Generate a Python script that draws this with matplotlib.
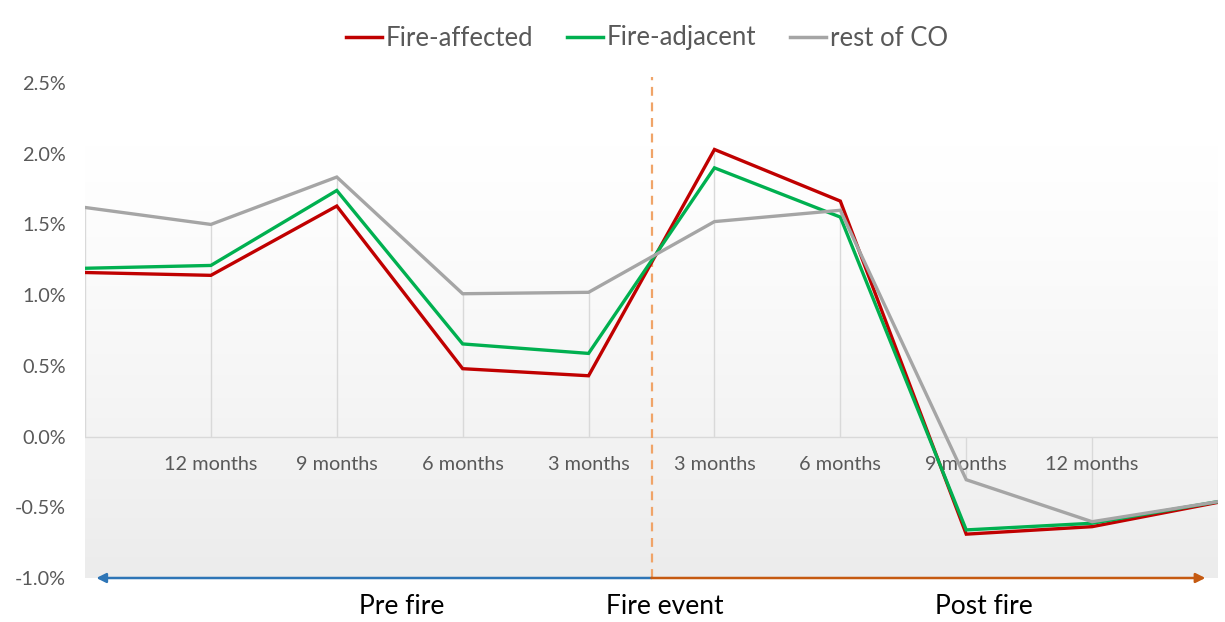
import numpy as np
import matplotlib
matplotlib.use("Agg")
import matplotlib.pyplot as plt
from matplotlib.colors import LinearSegmentedColormap

plt.rcParams['font.family'] = ['Lato', 'DejaVu Sans']

# Quarterly change, in percent, from 15 months before to 15 months after the fire
categories = ['', '12 months', '9 months', '6 months', '3 months',
              '3 months', '6 months', '9 months', '12 months', '']
fire_affected = [1.16, 1.14, 1.63, 0.48, 0.43, 2.03, 1.665, -0.69, -0.637, -0.465]
fire_adjacent = [1.19, 1.21, 1.74, 0.655, 0.588, 1.90, 1.552, -0.66, -0.613, -0.46]
rest_of_co = [1.62, 1.50, 1.835, 1.01, 1.02, 1.52, 1.60, -0.305, -0.602, -0.46]
fire_event_pos = 4.5

series = [
    ("Fire-affected", fire_affected, "#C00000"),
    ("Fire-adjacent", fire_adjacent, "#00B050"),
    ("rest of CO", rest_of_co, "#A5A5A5"),
]

fig = plt.figure(figsize=(12.25, 6.22), dpi=100)
ax = fig.add_axes([85 / 1225, 1 - 578 / 622, (1218 - 85) / 1225, (578 - 83) / 622])

x = np.arange(len(categories))
ymin, ymax = -1.0, 2.5
ax.set_xlim(0, len(categories) - 1)
ax.set_ylim(ymin, ymax)

# soft vertical gradient behind the plot area
grad = np.clip((np.linspace(0, 1, 256) - 0.12) / 0.88, 0, 1) ** 1.2
cmap = LinearSegmentedColormap.from_list("bg", ["#ffffff", "#ececec"])
ax.imshow(grad[:, None], aspect='auto', cmap=cmap, origin='upper',
          extent=[0, len(categories) - 1, ymin, ymax], zorder=0)

# drop lines from the highest series value to the zero line
tops = np.max(np.array([fire_affected, fire_adjacent, rest_of_co]), axis=0)
ax.vlines(x, 0, tops, color="#d9d9d9", lw=1, zorder=1)
ax.axhline(0, color="#d9d9d9", lw=1, zorder=1)

for name, vals, col in series:
    ax.plot(x, vals, color=col, lw=2.4, label=name, zorder=3,
            solid_joinstyle='miter')

# fire event marker
ax.plot([fire_event_pos, fire_event_pos], [ymin, 2.54], color="#F0A468",
        lw=1.6, ls=(0, (4, 3)), zorder=2, clip_on=False)

# period arrows along the bottom
ax.annotate("", xy=(0.09, ymin), xytext=(fire_event_pos, ymin),
            arrowprops=dict(arrowstyle='-|>', color="#2E75B6", lw=1.8,
                            mutation_scale=14, shrinkA=0, shrinkB=0),
            annotation_clip=False, zorder=4)
ax.annotate("", xy=(8.9, ymin), xytext=(fire_event_pos, ymin),
            arrowprops=dict(arrowstyle='-|>', color="#C55A11", lw=1.8,
                            mutation_scale=14, shrinkA=0, shrinkB=0),
            annotation_clip=False, zorder=4)

# axes styling
for s in ax.spines.values():
    s.set_visible(False)
ax.set_xticks(x[1:-1])
ax.set_xticklabels(categories[1:-1])
ax.xaxis.set_ticks_position('bottom')
ax.spines['bottom'].set_position(('data', 0))
ax.tick_params(axis='x', length=0, pad=14, labelsize=14.3, labelcolor="#595959")
yt = np.arange(-1.0, 2.51, 0.5)
ax.set_yticks(yt)
ax.set_yticklabels([f"{v:.1f}%" for v in yt])
ax.tick_params(axis='y', length=0, pad=14, labelsize=14.3, labelcolor="#595959")

fig.text(402 / 1225, 1 - 607 / 622, "Pre fire", ha='center', va='center',
         fontsize=19, color='black')
fig.text(665 / 1225, 1 - 607 / 622, "Fire event", ha='center', va='center',
         fontsize=19, color='black')
fig.text(984 / 1225, 1 - 607 / 622, "Post fire", ha='center', va='center',
         fontsize=19, color='black')

leg = fig.legend(loc='center', bbox_to_anchor=(647 / 1225, 1 - 38 / 622),
                 ncol=3, frameon=False, fontsize=18.5, handlelength=1.4,
                 handletextpad=0.15, columnspacing=1.3)
for t in leg.get_texts():
    t.set_color("#595959")
for h in leg.get_lines():
    h.set_linewidth(2.5)

fig.savefig("out.png", dpi=100)
